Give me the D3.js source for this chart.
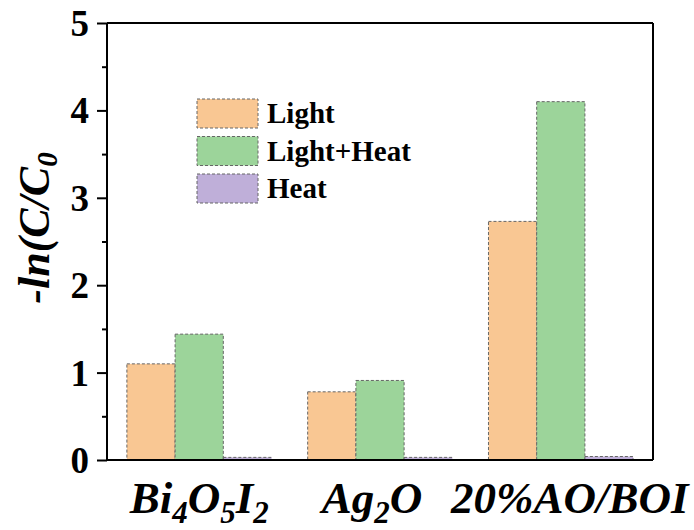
<!DOCTYPE html>
<html>
<head>
<meta charset="utf-8">
<script src="https://cdn.jsdelivr.net/npm/d3@7"></script>
<style>
  html, body { margin: 0; padding: 0; background: #fff; }
  svg { display: block; }
  text { font-family: "Liberation Serif", "Times New Roman", serif; font-weight: bold; fill: #000; }
</style>
</head>
<body>
<svg id="chart" width="694" height="530"></svg>
<script>
// Samples along the x axis: [text, isSubscript] pieces
const samples = [
  [["Bi", false], ["4", true], ["O", false], ["5", true], ["I", false], ["2", true]],
  [["Ag", false], ["2", true], ["O", false]],
  [["20%AO/BOI", false]]
];
const seriesNames = ["Light", "Light+Heat", "Heat"];
const lightValues = [1.10, 0.78, 2.73];
const lightHeatValues = [1.44, 0.91, 4.10];
const heatValues = [0.03, 0.03, 0.04];
const yTicks = [0, 1, 2, 3, 4, 5];
const yMinorTicks = [0.5, 1.5, 2.5, 3.5, 4.5];
const colors = ["#F9C793", "#9CD49A", "#BFAFD9"];

const series = [lightValues, lightHeatValues, heatValues];

const svg = d3.select("#chart");
const plotL = 107, plotR = 653, plotT = 23, plotB = 460;

const x0 = d3.scaleBand().domain(d3.range(samples.length)).range([plotL, plotR])
  .paddingInner(0.2).paddingOuter(0.11);
const x1 = d3.scaleBand().domain(d3.range(series.length)).range([0, x0.bandwidth()]);
const y = d3.scaleLinear().domain([0, 5]).range([plotB, plotT]);

// bars
series.forEach((vals, si) => {
  svg.append("g").selectAll("rect")
    .data(vals)
    .join("rect")
    .attr("x", (d, i) => x0(i) + x1(si))
    .attr("width", x1.bandwidth())
    .attr("y", d => y(d))
    .attr("height", d => y(0) - y(d))
    .attr("fill", colors[si])
    .attr("stroke", "#666")
    .attr("stroke-width", 1)
    .attr("stroke-dasharray", "3,2");
});

// frame
const frame = svg.append("g").attr("stroke", "#000").attr("stroke-width", 2).attr("fill", "none");
frame.append("line").attr("x1", plotL).attr("x2", plotR).attr("y1", plotT).attr("y2", plotT);
frame.append("line").attr("x1", plotR).attr("x2", plotR).attr("y1", plotT).attr("y2", plotB);

// y axis
const yAxis = d3.axisLeft(y).tickValues(yTicks).tickFormat(d3.format("d")).tickSize(10).tickPadding(8);
const gy = svg.append("g").attr("transform", `translate(${plotL},0)`).call(yAxis);
gy.select(".domain").attr("stroke-width", 2).attr("d", `M0,${plotB}V${plotT}`);
gy.selectAll(".tick line").attr("stroke-width", 2);
gy.selectAll(".tick text").attr("font-size", 37).attr("font-family", "Liberation Serif").attr("font-weight", "bold").attr("dy", "0.34em");
const gyMinor = d3.axisLeft(y).tickValues(yMinorTicks).tickFormat("").tickSize(5);
const gm = svg.append("g").attr("transform", `translate(${plotL},0)`).call(gyMinor);
gm.select(".domain").remove();
gm.selectAll(".tick line").attr("stroke-width", 2);

// x axis (no ticks)
const xAxis = d3.axisBottom(x0).tickValues([]).tickSize(0);
const gx = svg.append("g").attr("transform", `translate(0,${plotB})`).call(xAxis);
gx.select(".domain").attr("stroke-width", 2).attr("d", `M${plotL},0H${plotR}`);

// x labels with subscripts; the long last label sits a little to the right
const labelShift = [0, -8, 9];
const subDrop = 10;
samples.forEach((parts, i) => {
  const t = svg.append("text")
    .attr("x", x0(i) + x0.bandwidth() / 2 + labelShift[i])
    .attr("y", 513)
    .attr("text-anchor", "middle")
    .attr("font-size", 45)
    .attr("font-style", "italic");
  let shifted = 0;
  parts.forEach(([s, sub]) => {
    const target = sub ? subDrop : 0;
    t.append("tspan")
      .attr("font-size", sub ? 31 : 45)
      .attr("dy", target - shifted)
      .text(s);
    shifted = target;
  });
});

// y title
const yt = svg.append("text")
  .attr("transform", `translate(49,228) rotate(-90)`)
  .attr("text-anchor", "middle")
  .attr("font-size", 44)
  .attr("font-style", "italic");
yt.append("tspan").text("-ln(C/C");
yt.append("tspan").attr("font-size", 29).attr("dy", 8).text("0");

// legend
const leg = svg.append("g").attr("transform", "translate(197,99)");
seriesNames.forEach((name, i) => {
  const g = leg.append("g").attr("transform", `translate(0,${i * 37.5})`);
  g.append("rect").attr("width", 61).attr("height", 29)
    .attr("fill", colors[i]).attr("stroke", "#666").attr("stroke-width", 1).attr("stroke-dasharray", "3,2");
  g.append("text").attr("x", 70).attr("y", 24).attr("font-size", 29).text(name);
});
</script>
</body>
</html>
